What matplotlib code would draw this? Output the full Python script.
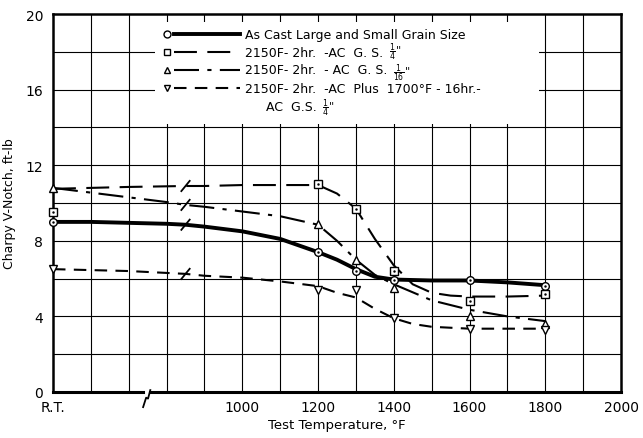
"""Charpy V-notch impact energy vs test temperature for cast alloy heat treatments."""
import matplotlib
matplotlib.use("Agg")
import matplotlib.pyplot as plt

RT = 500        # x position used for the room-temperature column
BREAK_X = 850   # where the curves carry their "//" break marks
AXIS_BREAK = 750

# --- curves (x in deg F, R.T. at 500) ---
cast_cx = [500, 600, 700, 800, 850, 900, 1000, 1100, 1200, 1250, 1300, 1350, 1400, 1500, 1600, 1700, 1800]
cast_cy = [9.0, 9.0, 8.95, 8.9, 8.85, 8.75, 8.5, 8.1, 7.4, 7.0, 6.5, 6.1, 5.95, 5.9, 5.9, 5.8, 5.65]
cast_mx = [500, 1200, 1300, 1400, 1600, 1800]
cast_my = [9.0, 7.4, 6.4, 5.9, 5.9, 5.6]

sq_cx = [500, 600, 700, 850, 900, 1000, 1100, 1200, 1250, 1300, 1350, 1400, 1450, 1500, 1550, 1600, 1700, 1800]
sq_cy = [10.75, 10.8, 10.85, 10.9, 10.9, 10.95, 10.95, 10.95, 10.5, 9.7, 8.1, 6.7, 5.7, 5.25, 5.1, 5.05, 5.05, 5.1]
sq_mx = [500, 1200, 1300, 1400, 1600, 1800]
sq_my = [9.5, 11.0, 9.7, 6.4, 4.8, 5.2]

tri_cx = [500, 600, 700, 800, 850, 900, 1000, 1100, 1200, 1250, 1300, 1350, 1400, 1500, 1600, 1700, 1800]
tri_cy = [10.8, 10.55, 10.3, 10.05, 9.9, 9.8, 9.55, 9.3, 8.85, 8.0, 7.0, 6.2, 5.7, 4.85, 4.35, 4.0, 3.75]
tri_mx = [500, 1200, 1300, 1400, 1600, 1800]
tri_my = [10.8, 8.9, 7.0, 5.5, 4.0, 3.6]

inv_cx = [500, 600, 700, 800, 850, 900, 1000, 1100, 1200, 1250, 1300, 1350, 1400, 1450, 1500, 1600, 1700, 1800]
inv_cy = [6.5, 6.45, 6.4, 6.3, 6.25, 6.15, 6.05, 5.85, 5.6, 5.25, 5.0, 4.4, 3.9, 3.6, 3.45, 3.35, 3.35, 3.35]
inv_mx = [500, 1200, 1300, 1400, 1600, 1800]
inv_my = [6.5, 5.4, 5.4, 3.9, 3.35, 3.3]

x_ticks = [RT, 1000, 1200, 1400, 1600, 1800, 2000]
x_ticklabels = ["R.T.", "1000", "1200", "1400", "1600", "1800", "2000"]
y_ticks = [0, 4, 8, 12, 16, 20]

# legend: (main text, trailing fraction or None)
legend_labels = [
    ("As Cast Large and Small Grain Size", None),
    ("2150F- 2hr.  -AC  G. S.", r'$\frac{1}{4}$"'),
    ("2150F- 2hr.  - AC  G. S.", r'$\frac{1}{16}$"'),
    ("2150F- 2hr.  -AC  Plus  1700\u00b0F - 16hr.-", None),
]
legend_extra = ("AC  G.S.", r'$\frac{1}{4}$"')

series = [
    (cast_cx, cast_cy, cast_mx, cast_my, "o", dict(lw=2.8, ls="-")),
    (sq_cx, sq_cy, sq_mx, sq_my, "s", dict(lw=1.5, dashes=(11, 5))),
    (tri_cx, tri_cy, tri_mx, tri_my, "^", dict(lw=1.5, dashes=(12, 4, 2, 4))),
    (inv_cx, inv_cy, inv_mx, inv_my, "v", dict(lw=1.5, dashes=(6, 4))),
]

fig = plt.figure(figsize=(6.43, 4.39), dpi=100)
ax = fig.add_axes([0.0824, 0.1048, 0.8834, 0.861])
ax.set_xlim(RT, 2000)
ax.set_ylim(0, 20)

# grid every 100 F / 2 ft-lb
for gx in range(600, 2000, 100):
    ax.axvline(gx, color="black", lw=0.8, zorder=0)
for gy in range(2, 20, 2):
    ax.axhline(gy, color="black", lw=0.8, zorder=0)

for cx, cy, mx, my, mk, style in series:
    ax.plot(cx, cy, color="black", zorder=3, **style)
    ax.plot(mx, my, ls="none", marker=mk, ms=5.5, mfc="white", mec="black", mew=1.0,
            zorder=4, clip_on=False)
    if mk in ("o", "s"):
        ax.plot(mx, my, ls="none", marker=".", ms=1.5, color="black", zorder=5, clip_on=False)
    # curve break mark
    ybk = cy[cx.index(BREAK_X)]
    ax.plot([BREAK_X - 11, BREAK_X + 11], [ybk - 0.27, ybk + 0.27], color="black", lw=1.3, zorder=5)

# spines; bottom drawn by hand with the axis break
for s in ("left", "right", "top"):
    ax.spines[s].set_linewidth(1.8)
ax.spines["bottom"].set_visible(False)
ax.plot([RT, AXIS_BREAK - 12], [0, 0], color="black", lw=2.2, clip_on=False, zorder=6)
ax.plot([AXIS_BREAK + 5, 2000], [0, 0], color="black", lw=2.2, clip_on=False, zorder=6)
ax.plot([AXIS_BREAK - 12, AXIS_BREAK - 4, AXIS_BREAK + 1, AXIS_BREAK + 7],
        [-0.8, -0.3, -0.35, 0.1], color="black", lw=1.3, clip_on=False, zorder=6)

ax.set_xticks(x_ticks)
ax.set_xticklabels(x_ticklabels)
ax.set_yticks(y_ticks)
ax.tick_params(axis="x", length=0, labelsize=10, pad=6)
ax.tick_params(axis="y", length=0, labelsize=10, pad=7)
ax.set_xlabel("Test Temperature, \u00b0F", fontsize=9.5, labelpad=3)
ax.set_ylabel("Charpy V-Notch, ft-lb", fontsize=9, labelpad=7)

# hand-drawn legend on a white patch
ax.add_patch(plt.Rectangle((0.18, 0.71), 0.675, 0.27, transform=ax.transAxes,
                           facecolor="white", edgecolor="none", zorder=2))


def legend_text(x, y, main, frac, dy=0):
    t = ax.text(x, y, main, transform=ax.transAxes, fontsize=9, va="center", zorder=7)
    if frac:
        ax.annotate(frac, xy=(1, 0.5), xycoords=t, xytext=(4, dy), textcoords="offset points",
                    fontsize=8, va="center", ha="left", zorder=7)


rows = [0.947, 0.899, 0.852, 0.804]
frac_dy = [0, 1, -2, 0]
for (cx, cy, mx, my, mk, style), (main, frac), ry, dy in zip(series, legend_labels, rows, frac_dy):
    ax.plot([0.2007], [ry], transform=ax.transAxes, ls="none", marker=mk, ms=5,
            mfc="white", mec="black", mew=1.0, zorder=7)
    ax.plot([0.213, 0.329], [ry, ry], transform=ax.transAxes, color="black", zorder=7, **style)
    legend_text(0.338, ry, main, frac, dy)
legend_text(0.375, 0.754, *legend_extra)

fig.savefig("out.png", dpi=100)
